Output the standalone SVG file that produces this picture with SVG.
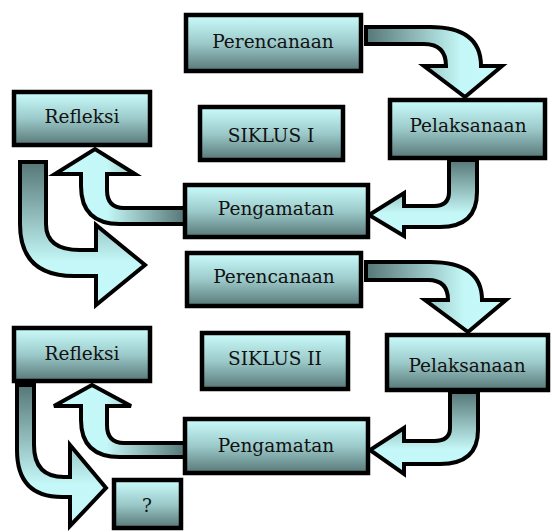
<svg xmlns="http://www.w3.org/2000/svg" width="552" height="532" viewBox="0 0 552 532">
<defs>
<linearGradient id="gBox" x1="0" y1="0" x2="0" y2="1">
<stop offset="0" stop-color="#cbfcfc"/>
<stop offset="0.5" stop-color="#9ccaca"/>
<stop offset="1" stop-color="#587777"/>
</linearGradient>
<linearGradient id="gRight" x1="0" y1="0" x2="1" y2="0">
<stop offset="0" stop-color="#567676"/>
<stop offset="0.7" stop-color="#c4f7f7"/>
<stop offset="1" stop-color="#c6f9f9"/>
</linearGradient>
<linearGradient id="gLeft" x1="1" y1="0" x2="0" y2="0">
<stop offset="0" stop-color="#567676"/>
<stop offset="0.6" stop-color="#c4f7f7"/>
<stop offset="1" stop-color="#c6f9f9"/>
</linearGradient>
<linearGradient id="gDown" x1="0" y1="0" x2="0" y2="1">
<stop offset="0" stop-color="#567676"/>
<stop offset="0.7" stop-color="#c4f7f7"/>
<stop offset="1" stop-color="#c6f9f9"/>
</linearGradient>
</defs>
<style>
.box{fill:url(#gBox);stroke:#000;stroke-width:4.5}
.arr{stroke:#000;stroke-width:4;stroke-linejoin:miter}
.r{fill:url(#gRight)}
.l{fill:url(#gLeft)}
.d{fill:url(#gDown)}
.t{font-family:'DejaVu Serif',serif;font-size:18.5px;fill:#111;text-anchor:middle}
</style>
<g id="connectors">
<path class="arr r" d="M366,27 L430,27 Q481,27 481,66 L502,66 L465,97 L424,66 L446,66 Q446,44 424,44 L366,44 Z"/>
<path class="arr d" d="M449,160 L477,160 L477,192 Q477,227 440,227 L404,227 L404,236 L369,215 L404,193 L404,206 L434,206 Q449,206 449,192 Z"/>
<path class="arr l" d="M185,208 L124,208 Q107,208 107,190 L107,174 L135,174 L95,149 L55,174 L81,174 L81,186 Q81,224 120,224 L185,224 Z"/>
<path class="arr d" d="M20,162 L46,162 L46,224 Q46,250 80,250 L96,250 L96,225 L145,265 L96,305 L96,276 L74,276 Q20,276 20,224 Z"/>
<path class="arr r" d="M366,262 L430,262 Q482,262 482,300 L506,300 L468,332 L425,300 L448,300 Q448,280 428,280 L366,280 Z"/>
<path class="arr d" d="M450,392 L478,392 L478,430 Q478,464 440,464 L404,464 L404,474 L370,450 L404,428 L404,441 L434,441 Q450,441 450,428 Z"/>
<path class="arr l" d="M185,443 L124,443 Q107,443 107,425 L107,406 L131,406 L92,385 L54,406 L81,406 L81,420 Q81,457 120,457 L185,457 Z"/>
<path class="arr d" d="M17,385 L34,385 L34,445 Q34,477 64,477 L70,477 L70,445 L106,488 L70,526 L70,497 L62,497 Q17,497 17,450 Z"/>
</g>
<g id="perencanaan1"><rect class="box" x="186" y="15" width="175" height="56"/><text class="t" x="273" y="48">Perencanaan</text></g>
<g id="pelaksanaan1"><rect class="box" x="390" y="100" width="155" height="58"/><text class="t" x="468" y="132">Pelaksanaan</text></g>
<g id="siklus1"><rect class="box" x="200" y="107" width="143" height="53"/><text class="t" x="271" y="142">SIKLUS I</text></g>
<g id="refleksi1"><rect class="box" x="14" y="92" width="136" height="53"/><text class="t" x="82" y="123">Refleksi</text></g>
<g id="pengamatan1"><rect class="box" x="185" y="185" width="183" height="52"/><text class="t" x="276" y="215">Pengamatan</text></g>
<g id="perencanaan2"><rect class="box" x="187" y="253" width="174" height="53"/><text class="t" x="274" y="283">Perencanaan</text></g>
<g id="siklus2"><rect class="box" x="202" y="333" width="146" height="56"/><text class="t" x="275" y="365">SIKLUS II</text></g>
<g id="pelaksanaan2"><rect class="box" x="387" y="335" width="161" height="55"/><text class="t" x="467" y="372">Pelaksanaan</text></g>
<g id="refleksi2"><rect class="box" x="14" y="328" width="136" height="53"/><text class="t" x="82" y="360">Refleksi</text></g>
<g id="pengamatan2"><rect class="box" x="185" y="419" width="183" height="54"/><text class="t" x="276" y="452">Pengamatan</text></g>
<g id="tanya"><rect class="box" x="114" y="480" width="67" height="48"/><text class="t" x="147" y="512">?</text></g>
</svg>
